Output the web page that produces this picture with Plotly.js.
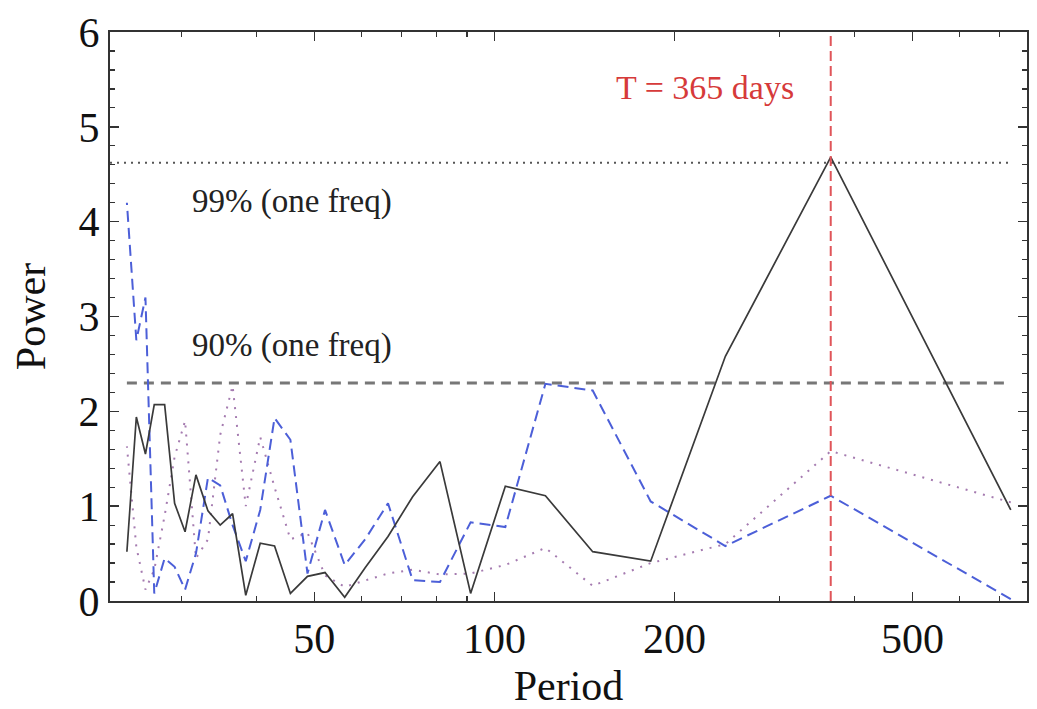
<!DOCTYPE html>
<html>
<head>
<meta charset="utf-8">
<script src="https://cdn.plot.ly/plotly-3.0.1.min.js"></script>
<style>html,body{margin:0;padding:0;background:#fff;}#chart{width:1037px;height:709px;}</style>
</head>
<body>
<div id="chart"></div>
<script>
// Periods (days): 730/k for k = 1..30
const periods = [730, 365, 243.3, 182.5, 146, 121.7, 104.3, 91.25, 81.1, 73, 66.4, 60.8, 56.2, 52.1, 48.7, 45.6, 42.9, 40.6, 38.4, 36.5, 34.8, 33.2, 31.7, 30.4, 29.2, 28.1, 27.0, 26.1, 25.2, 24.3];

// Power values (same order as periods)
const powerSolid = [0.96, 4.68, 2.58, 0.42, 0.52, 1.11, 1.21, 0.08, 1.47, 1.10, 0.68, 0.35, 0.04, 0.30, 0.26, 0.08, 0.58, 0.61, 0.06, 0.92, 0.80, 0.95, 1.33, 0.73, 1.03, 2.07, 2.07, 1.55, 1.94, 0.52];
const powerDashed = [0.02, 1.11, 0.58, 1.05, 2.22, 2.29, 0.78, 0.83, 0.20, 0.22, 1.03, 0.65, 0.38, 0.96, 0.29, 1.70, 1.93, 0.96, 0.42, 0.80, 1.22, 1.30, 0.50, 0.12, 0.36, 0.45, 0.08, 3.20, 2.75, 4.20];
const powerDotted = [1.04, 1.58, 0.60, 0.40, 0.16, 0.56, 0.38, 0.29, 0.28, 0.33, 0.29, 0.22, 0.15, 0.27, 0.72, 0.65, 1.20, 1.73, 1.00, 2.27, 1.75, 0.65, 0.45, 1.90, 1.52, 0.90, 0.33, 0.12, 0.57, 1.63];

// Significance levels and marked period
const sig99 = 4.62;
const sig90 = 2.30;
const markedPeriod = 365;
const periodRange = [22.77, 777];
const powerRange = [0, 6];

const xTickVals = [50, 100, 200, 500];
const xTickText = ["50", "100", "200", "500"];
const xMinorVals = [30, 40, 60, 70, 80, 90, 300, 400, 600, 700];

const labels = {
  x: "Period",
  y: "Power",
  l99: "99% (one freq)",
  l90: "90% (one freq)",
  mark: "T = 365 days"
};

const serif = "Liberation Serif, Times New Roman, serif";
const pMin = periods[periods.length - 1];
const pMax = periods[0];

const traces = [
  {x: [periodRange[0], pMax], y: [sig99, sig99], mode: "lines",
   line: {color: "#555555", width: 2, dash: "2px,5px"}, hoverinfo: "skip"},
  {x: [pMin, pMax], y: [sig90, sig90], mode: "lines",
   line: {color: "#777777", width: 3, dash: "10px,7px"}, hoverinfo: "skip"},
  {x: periods, y: powerDotted, mode: "lines", name: "dotted",
   line: {color: "#a57bb0", width: 2, dash: "2px,7px"}},
  {x: periods, y: powerDashed, mode: "lines", name: "dashed",
   line: {color: "#4c5fd8", width: 2, dash: "11px,6px"}},
  {x: periods, y: powerSolid, mode: "lines", name: "solid",
   line: {color: "#3a3a3a", width: 1.7}},
  {x: [markedPeriod, markedPeriod], y: powerRange, mode: "lines",
   line: {color: "#e0555a", width: 2, dash: "10px,5px"}, hoverinfo: "skip"}
];

const layout = {
  width: 1037, height: 709,
  margin: {l: 110, r: 10, t: 32, b: 108},
  paper_bgcolor: "#ffffff", plot_bgcolor: "#ffffff",
  showlegend: false,
  font: {family: serif, color: "#111111"},
  xaxis: {
    type: "log",
    range: [Math.log10(periodRange[0]), Math.log10(periodRange[1])],
    tickmode: "array", tickvals: xTickVals, ticktext: xTickText,
    ticks: "inside", ticklen: 9, tickwidth: 1.5, tickcolor: "#333",
    minor: {tickmode: "array", tickvals: xMinorVals, ticks: "inside", ticklen: 5, tickwidth: 1.2, tickcolor: "#333", showgrid: false},
    showline: true, linecolor: "#333", linewidth: 2, mirror: "ticks",
    showgrid: false, zeroline: false,
    tickfont: {family: serif, size: 42, color: "#111"},
    title: {text: labels.x, font: {family: serif, size: 42, color: "#111"}, standoff: 10}
  },
  yaxis: {
    range: powerRange,
    tickmode: "linear", tick0: 0, dtick: 1,
    ticks: "inside", ticklen: 9, tickwidth: 1.5, tickcolor: "#333",
    minor: {dtick: 0.2, ticks: "inside", ticklen: 5, tickwidth: 1.2, tickcolor: "#333", showgrid: false},
    showline: true, linecolor: "#333", linewidth: 2, mirror: "ticks",
    showgrid: false, zeroline: false,
    tickfont: {family: serif, size: 42, color: "#111"},
    title: {text: labels.y, font: {family: serif, size: 42, color: "#111"}, standoff: 20}
  },
  annotations: [
    {xref: "paper", yref: "paper", x: 0.199, y: (601 - 202) / 569, text: labels.l99, showarrow: false,
     xanchor: "center", yanchor: "middle", font: {family: serif, size: 33, color: "#222"}},
    {xref: "paper", yref: "paper", x: 0.199, y: (601 - 345) / 569, text: labels.l90, showarrow: false,
     xanchor: "center", yanchor: "middle", font: {family: serif, size: 33, color: "#222"}},
    {xref: "paper", yref: "paper", x: (705 - 110) / 917, y: (601 - 88) / 569, text: labels.mark, showarrow: false,
     xanchor: "center", yanchor: "middle", font: {family: serif, size: 34, color: "#d63a3a"}}
  ]
};

Plotly.newPlot("chart", traces, layout, {staticPlot: true, displayModeBar: false});
</script>
</body>
</html>
